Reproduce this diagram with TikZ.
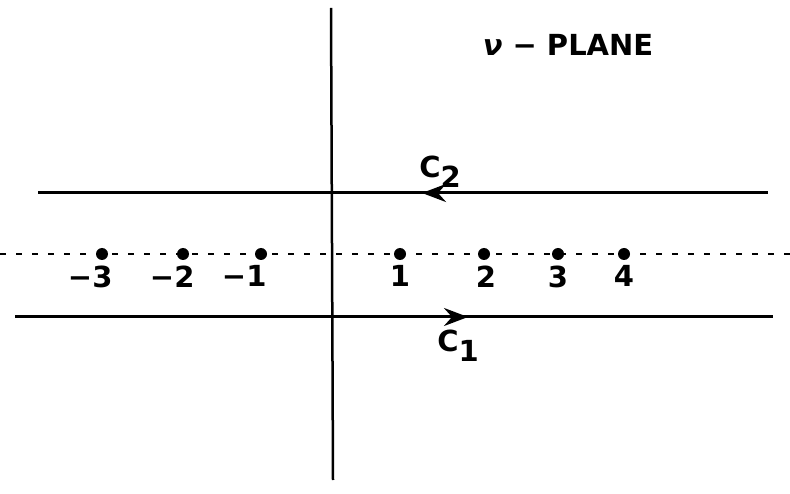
\documentclass[tikz,border=0pt]{standalone}
\usepackage{fontspec}
\setmainfont{DejaVu Sans}
\usetikzlibrary{arrows.meta}
\begin{document}
\begin{tikzpicture}[x=1pt,y=-1pt,
  contour/.style={line width=3pt,black},
  axis/.style={line width=2.5pt,black},
  realaxis/.style={line width=1.5pt,black,dash pattern=on 6pt off 10pt},
  pole/.style={circle,fill=black,inner sep=0pt,minimum size=12pt},
  lab/.style={font=\fontsize{29}{31}\selectfont\bfseries},
  tip/.style={-{Stealth[length=24pt,width=18pt,inset=8pt]}}]
\useasboundingbox (0,0) rectangle (790,494);
% axes
\coordinate (vt) at (331,8);
\coordinate (vb) at (333,480);
\draw[axis] (vt) -- (vb);
\coordinate (rl) at (0,254);
\coordinate (rr) at (790,254);
\draw[realaxis] (rl) -- (rr);
% contour C2
\coordinate (c2l) at (38,193);
\coordinate (c2r) at (768,193);
\draw[contour] (c2l) -- (c2r);
\coordinate (a2s) at (456,193);
\coordinate (a2e) at (422,193);
\draw[contour,tip] (a2s) -- (a2e);
\node[lab] (c2) at (440,172) {C\raisebox{-0.35em}{2}};
% contour C1
\coordinate (c1l) at (15,317);
\coordinate (c1r) at (773,317);
\draw[contour] (c1l) -- (c1r);
\coordinate (a1s) at (434,317);
\coordinate (a1e) at (468,317);
\draw[contour,tip] (a1s) -- (a1e);
\node[lab] (c1) at (458,346) {C\raisebox{-0.35em}{1}};
% poles
\foreach \n/\x in {m3/102, m2/183, m1/261, p1/400, p2/484, p3/558, p4/624}{
  \node[pole] (pole\n) at (\x,254) {};
}
\node[lab,anchor=north east] (lm3) at (116,262) {−3};
\node[lab,anchor=north east] (lm2) at (198,262) {−2};
\node[lab,anchor=north east] (lm1) at (270,262) {−1};
\node[lab,anchor=north] (lp1) at (400,262) {1};
\node[lab,anchor=north] (lp2) at (486,262) {2};
\node[lab,anchor=north] (lp3) at (558,262) {3};
\node[lab,anchor=north] (lp4) at (624,262) {4};
\node[lab] (title) at (568,45) {\textit{ν} − PLANE};
\end{tikzpicture}
\end{document}
